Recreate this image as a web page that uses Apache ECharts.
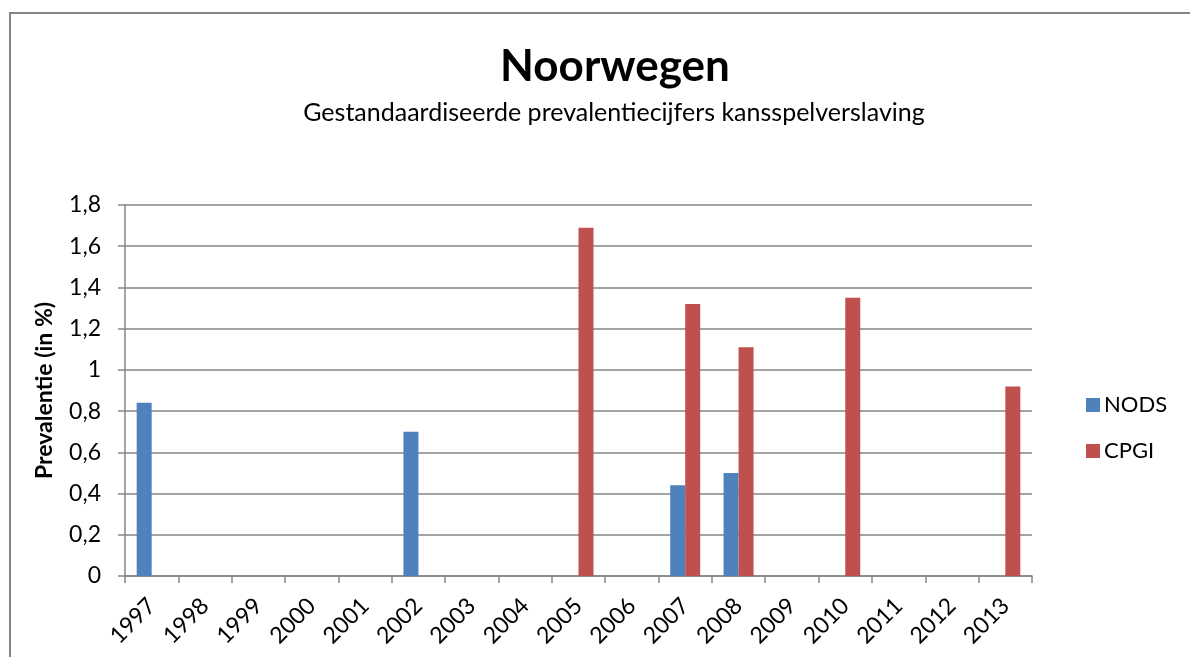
<!DOCTYPE html>
<html>
<head>
<meta charset="utf-8">
<script src="https://cdn.jsdelivr.net/npm/echarts@6/dist/echarts.min.js"></script>
<style>
  html, body { margin: 0; padding: 0; background: #fff; }
  #chart { width: 1190px; height: 657px; }
</style>
</head>
<body>
<div id="chart"></div>
<script>
// categorieën (jaren)
const years = ['1997', '1998', '1999', '2000', '2001', '2002', '2003', '2004', '2005',
  '2006', '2007', '2008', '2009', '2010', '2011', '2012', '2013']
// NODS waarden (null = geen meting)
const nods = [0.84, null, null, null, null, 0.70, null, null, null,
  null, 0.44, 0.50, null, null, null, null, null]
// CPGI waarden
const cpgi = [null, null, null, null, null, null, null, null, 1.69,
  null, 1.32, 1.11, null, 1.35, null, null, 0.92]

const myChart = echarts.init(document.querySelector('#chart'))
const font = 'Lato, "Open Sans", sans-serif'
const grey = '#868686'

const option = {
  textStyle: { fontFamily: font },
  // kader rond de grafiek
  graphic: [
    {
      type: 'rect',
      shape: { x: 10, y: 13, width: 1200, height: 700 },
      style: { fill: 'none', stroke: grey, lineWidth: 2 }
    }
  ],
  title: [
    {
      text: 'Noorwegen',
      left: 610,
      top: 40,
      textAlign: 'center',
      textStyle: { fontFamily: font, fontSize: 44, fontWeight: 'bold', color: '#000' }
    },
    {
      text: 'Gestandaardiseerde prevalentiecijfers kansspelverslaving',
      left: 609,
      top: 95,
      textAlign: 'center',
      textStyle: { fontFamily: font, fontSize: 25, fontWeight: 'normal', color: '#000' }
    }
  ],
  legend: {
    orient: 'vertical',
    left: 1081,
    top: 389,
    itemWidth: 14,
    itemHeight: 14,
    itemGap: 24,
    icon: 'rect',
    textStyle: { fontFamily: font, fontSize: 22, color: '#000', padding: [0, 0, 0, -1] },
    data: ['NODS', 'CPGI']
  },
  grid: {
    left: 125,
    right: 158,
    top: 205,
    bottom: 81
  },
  xAxis: {
    type: 'category',
    data: years,
    axisLine: { lineStyle: { color: grey, width: 1.5 } },
    axisTick: { show: true, length: 7, lineStyle: { color: grey, width: 1.5 } },
    axisLabel: {
      rotate: 45,
      fontSize: 23,
      color: '#000',
      fontFamily: font,
      margin: 26,
      interval: 0
    }
  },
  yAxis: {
    type: 'value',
    min: 0,
    max: 1.8,
    interval: 0.2,
    name: 'Prevalentie (in %)',
    nameLocation: 'middle',
    nameRotate: 90,
    nameGap: 69,
    nameTextStyle: { fontFamily: font, fontSize: 23, fontWeight: 'bold', color: '#000' },
    axisLine: { show: true, lineStyle: { color: grey, width: 1.5 } },
    axisTick: { show: true, length: 7, lineStyle: { color: grey, width: 1.5 } },
    axisLabel: {
      fontSize: 23,
      color: '#000',
      fontFamily: font,
      margin: 24,
      formatter: v => String(Math.round(v * 10) / 10).replace('.', ',')
    },
    splitLine: { lineStyle: { color: grey, width: 1.5 } }
  },
  series: [
    {
      name: 'NODS',
      type: 'bar',
      data: nods,
      barWidth: 15,
      barGap: '0%',
      itemStyle: { color: '#4F81BD' }
    },
    {
      name: 'CPGI',
      type: 'bar',
      data: cpgi,
      barWidth: 15,
      barGap: '0%',
      itemStyle: { color: '#C0504D' }
    }
  ]
}
myChart.setOption(option)
</script>
</body>
</html>
